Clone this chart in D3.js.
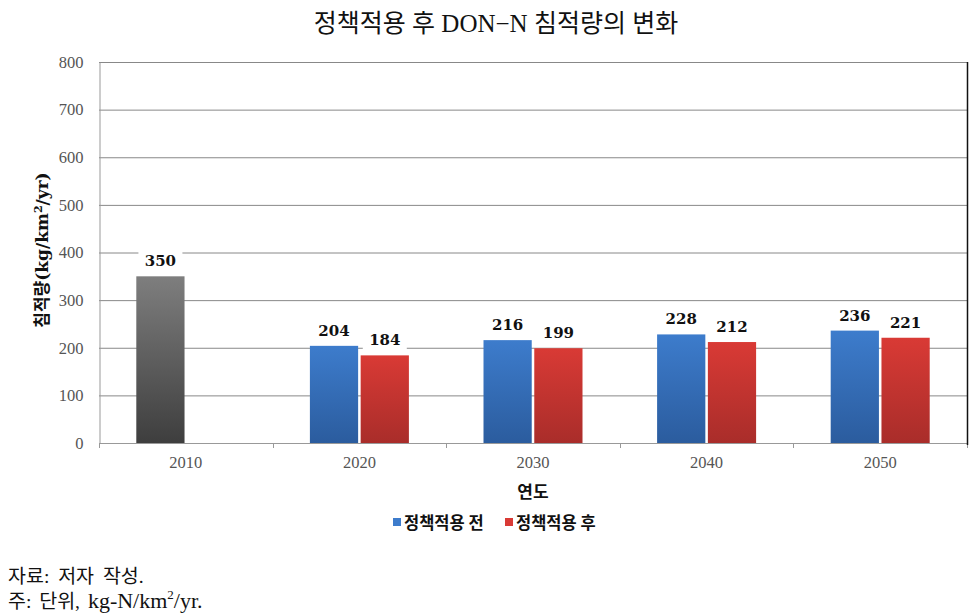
<!DOCTYPE html>
<html><head><meta charset="utf-8">
<script src="https://cdn.jsdelivr.net/npm/d3@7"></script>
<style>body{margin:0;background:#fff}</style>
</head><body>
<svg id="c" width="977" height="614"></svg>
<script>
const categories = ["2010","2020","2030","2040","2050"];
const seriesNames = ["정책적용 전","정책적용 후"];
const before = [350,204,216,228,236];
const after = [null,184,199,212,221];
const yTicks = [0,100,200,300,400,500,600,700,800];

const svg = d3.select("#c");
const m = {l:99, r:967, t:62, b:443};
const x = d3.scaleBand().domain(categories).range([m.l,m.r]).paddingInner(0).paddingOuter(0);
const y = d3.scaleLinear().domain([0,800]).range([m.b,m.t]);

const defs = svg.append("defs");
function grad(id,c1,c2){
  const g = defs.append("linearGradient").attr("id",id).attr("x1",0).attr("y1",0).attr("x2",0).attr("y2",1);
  g.append("stop").attr("offset","0%").attr("stop-color",c1);
  g.append("stop").attr("offset","100%").attr("stop-color",c2);
}
grad("gb","#3d7ccc","#2b5c9e");
grad("gr","#d93a35","#a92d2a");
grad("gg","#7e7e7e","#3e3e3e");

// title
svg.append("text").attr("x",496).attr("y",32).attr("text-anchor","middle")
  .attr("font-family","'Liberation Serif','Noto Sans CJK KR'").attr("font-size",25).attr("fill","#111")
  .text("정책적용 후 DON−N 침적량의 변화");

// gridlines
svg.append("g").selectAll("line").data(yTicks).join("line")
  .attr("x1",m.l).attr("x2",m.r).attr("y1",d=>y(d)+0.5).attr("y2",d=>y(d)+0.5)
  .attr("stroke",d=>d===0?"#999":"#888").attr("stroke-width",1);

// y axis
const ya = svg.append("g").attr("transform",`translate(${m.l+0.5},0)`)
  .call(d3.axisLeft(y).tickValues(yTicks).tickSize(0).tickPadding(16));
ya.select(".domain").attr("stroke","#999");
ya.selectAll("text").attr("font-family","'Liberation Serif'").attr("font-size",16.5).attr("fill","#555");

// x axis
const xa = svg.append("g").attr("transform",`translate(0,${m.b+0.5})`)
  .call(d3.axisBottom(x).tickSize(0).tickPadding(13));
xa.select(".domain").remove();
xa.selectAll("text").attr("font-family","'Liberation Serif'").attr("font-size",16.5).attr("fill","#555");
svg.append("g").selectAll("line").data(d3.range(categories.length+1)).join("line")
  .attr("x1",i=>Math.round(m.l+i*x.step())+0.5).attr("x2",i=>Math.round(m.l+i*x.step())+0.5)
  .attr("y1",m.b).attr("y2",m.b+5).attr("stroke","#999");

// right border
svg.append("line").attr("x1",m.r+0.5).attr("x2",m.r+0.5).attr("y1",m.t).attr("y2",m.b+2)
  .attr("stroke","#111").attr("stroke-width",1.5);

// bars
const pad = (x.bandwidth() - 2*47 - 5)/2;
const bx = d3.scaleBand().domain([0,1]).range([pad, x.bandwidth()-pad]).paddingInner(0.05);
const data = [];
categories.forEach((c,i)=>{
  if(before[i]!=null) data.push({c, s:0, v:before[i], fill: i===0?"url(#gg)":"url(#gb)"});
  if(after[i]!=null) data.push({c, s:1, v:after[i], fill:"url(#gr)"});
});
svg.append("g").selectAll("rect").data(data).join("rect")
  .attr("x",d=>x(d.c)+bx(d.s)).attr("width",bx.bandwidth())
  .attr("y",d=>y(d.v)).attr("height",d=>y(0)-y(d.v)).attr("fill",d=>d.fill);

// labels with white boxes
const lg = svg.append("g");
data.forEach(d=>{
  const cx = x(d.c)+bx(d.s)+bx.bandwidth()/2;
  const by = y(d.v)-10;
  lg.append("rect").attr("x",cx-22).attr("y",by-17).attr("width",44).attr("height",22).attr("fill","#fff");
  lg.append("text").attr("x",cx).attr("y",by).attr("text-anchor","middle")
    .attr("font-family","'DejaVu Serif'").attr("font-weight","bold").attr("font-size",15).attr("fill","#111")
    .text(d.v);
});

// y title
svg.append("text").attr("transform","translate(48,250) rotate(-90)").attr("text-anchor","middle")
  .attr("font-family","'DejaVu Serif','Noto Sans CJK KR'").attr("font-weight","bold").attr("font-size",17).attr("fill","#111")
  .html("침적량(kg/km<tspan font-size='11' dy='-6'>2</tspan><tspan dy='6'>/yr)</tspan>");

// x title
svg.append("text").attr("x",533).attr("y",498).attr("text-anchor","middle")
  .attr("font-family","'Noto Sans CJK KR'").attr("font-weight","bold").attr("font-size",17).attr("fill","#111")
  .text("연도");

// legend
const leg = svg.append("g");
const legItems = [{n:seriesNames[0],c:"#3d7ccc",x:393},{n:seriesNames[1],c:"#d93a35",x:505}];
legItems.forEach(l=>{
  leg.append("rect").attr("x",l.x).attr("y",518).attr("width",8).attr("height",8).attr("fill",l.c);
  leg.append("text").attr("x",l.x+11).attr("y",529).attr("font-family","'Noto Sans CJK KR'")
    .attr("font-weight","bold").attr("font-size",16.5).attr("fill","#111").text(l.n);
});

// notes
svg.append("text").attr("x",8).attr("y",583).attr("font-family","'Liberation Serif','Noto Sans CJK KR'").attr("font-size",19.5).attr("fill","#111")
  .attr("word-spacing",4).text("자료: 저자 작성.");
svg.append("text").attr("x",8).attr("y",608).attr("font-family","'Liberation Serif','Noto Sans CJK KR'").attr("font-size",19.5).attr("fill","#111")
  .attr("word-spacing",3)
  .html("주: 단위, <tspan font-size='22'>kg-N/km</tspan><tspan font-size='13' dy='-9'>2</tspan><tspan font-size='22' dy='9'>/yr.</tspan>");
</script>
</body></html>
